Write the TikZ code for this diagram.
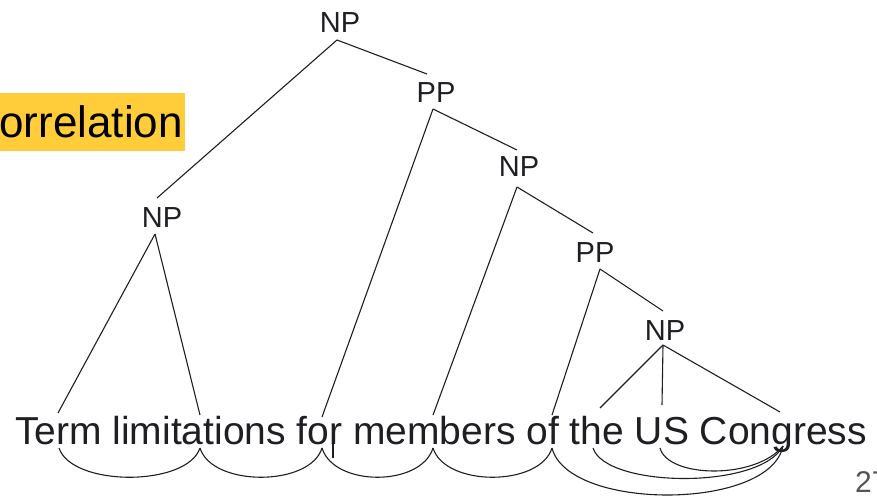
\documentclass[tikz,border=0pt]{standalone}
\usepackage{fontspec}
\setmainfont{Liberation Sans}
\definecolor{hl}{RGB}{255,204,58}
\definecolor{pgnum}{RGB}{85,85,85}
\definecolor{ink}{RGB}{30,30,35}
\begin{document}
\begin{tikzpicture}[x=1pt,y=-1pt,
  cat/.style={font=\fontsize{29}{29}\selectfont, text=ink, inner sep=0pt, outer sep=0pt, text height=20pt, text depth=0pt, anchor=center},
  edge/.style={draw=ink, line width=1.1pt},
  arcline/.style={draw=ink, line width=1.1pt}]
\useasboundingbox (0,0) rectangle (877,497);

% highlighted word
\fill[hl] (0,93) rectangle (185,151);
\node[anchor=base east, inner sep=0pt, font=\fontsize{44}{44}\selectfont] (corr) at (183,138) {orrelation};

% category labels
\node[cat] (np1) at (340,23) {NP};
\node[cat] (pp1) at (436,93) {PP};
\node[cat] (npl) at (162,217) {NP};
\node[cat] (np2) at (519,167) {NP};
\node[cat] (pp2) at (595,252) {PP};
\node[cat] (np3) at (665,330) {NP};

% attachment points of the labels
\coordinate (np1-b) at (337,40);
\coordinate (pp1-t) at (427,74);
\coordinate (pp1-b) at (433,109);
\coordinate (npl-t) at (157,198);
\coordinate (npl-b) at (155,234);
\coordinate (np2-t) at (517,150);
\coordinate (np2-b) at (517,187);
\coordinate (pp2-t) at (593,233);
\coordinate (pp2-b) at (600,269);
\coordinate (np3-t) at (663,311);
\coordinate (np3-b) at (663,345);

% sentence
\node[anchor=base west, inner sep=0pt, text=ink, font=\fontsize{39}{39}\selectfont] (sent) at (15,444) {Term limitations for members of the US Congress};

% leaf tops (above the words)
\coordinate (t1) at (58,413);
\coordinate (t2) at (200,415);
\coordinate (t3) at (322,417);
\coordinate (t4) at (433,415);
\coordinate (t5) at (552,415);
\coordinate (t6) at (600,408);
\coordinate (t7) at (662,405);
\coordinate (t8) at (780,412);

% leaf bottoms (below the words)
\coordinate (b1) at (59,448);
\coordinate (b2) at (200,448);
\coordinate (b3) at (322,448);
\coordinate (b4) at (433,448);
\coordinate (b5) at (552,448);
\coordinate (b6) at (593,448);
\coordinate (b7) at (660,448);
\coordinate (b8) at (783,446);

% tree edges
\draw[edge] (np1-b) -- (pp1-t);
\draw[edge] (np1-b) -- (npl-t);
\draw[edge] (pp1-b) -- (np2-t);
\draw[edge] (np2-b) -- (pp2-t);
\draw[edge] (pp2-b) -- (np3-t);
\draw[edge] (npl-b) -- (t1);
\draw[edge] (npl-b) -- (t2);
\draw[edge] (pp1-b) -- (t3);
\draw[edge] (np2-b) -- (t4);
\draw[edge] (pp2-b) -- (t5);
\draw[edge] (np3-b) -- (t6);
\draw[edge] (np3-b) -- (t7);
\draw[edge] (np3-b) -- (t8);

% arcs under the words
\draw[arcline] (b1) .. controls (72,487) and (187,487) .. (b2);
\draw[arcline] (b2) .. controls (212,487) and (310,487) .. (b3);
\draw[arcline] (b3) .. controls (334,487) and (421,487) .. (b4);
\draw[arcline] (b4) .. controls (445,487) and (540,487) .. (b5);
\draw[arcline] (b5) .. controls (568,511) and (770,511) .. (b8);
\draw[arcline] (b6) .. controls (606,488) and (760,490) .. (b8);
\draw[arcline] (b7) .. controls (668,478) and (755,480) .. (b8);

% text cursor
\draw[ink, line width=1.4pt] (333,426) -- (333,458);

% page number
\node[anchor=base west, inner sep=0pt, text=pgnum, font=\fontsize{30}{30}\selectfont] (pg) at (855,492) {27};
\end{tikzpicture}
\end{document}
